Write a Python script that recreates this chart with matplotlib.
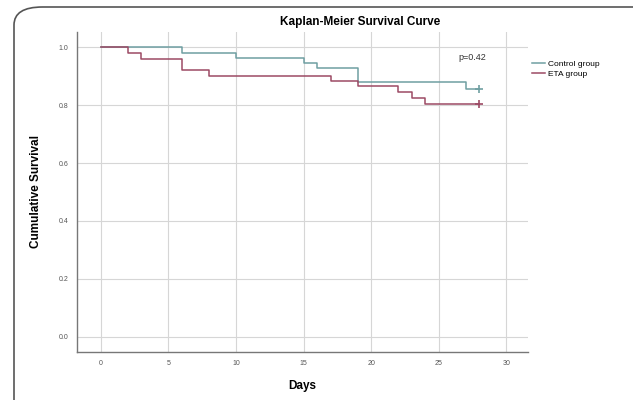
import matplotlib.pyplot as plt
from matplotlib.patches import FancyBboxPatch

# step data (day, survival after the drop)
control_days = [0, 6, 10, 15, 16, 19, 27, 28]
control_surv = [1.0, 0.98, 0.963, 0.946, 0.929, 0.880, 0.857, 0.857]
eta_days = [0, 2, 3, 6, 8, 17, 19, 22, 23, 24, 28]
eta_surv = [1.0, 0.98, 0.959, 0.921, 0.901, 0.883, 0.866, 0.846, 0.823, 0.803, 0.803]

x_ticks = [0, 5, 10, 15, 20, 25, 30]
y_ticks = [0.0, 0.2, 0.4, 0.6, 0.8, 1.0]

plt.rcParams['font.family'] = ['Liberation Sans', 'DejaVu Sans']

fig = plt.figure(figsize=(6.33, 4.0), dpi=100)
ax = fig.add_axes([77 / 633, 1 - 352 / 400, (528 - 77) / 633, (352 - 32) / 400])

c_col = '#6f9fa2'
e_col = '#9c4a64'

ax.step(control_days, control_surv, where='post', color=c_col, lw=1.1, label='Control group')
ax.step(eta_days, eta_surv, where='post', color=e_col, lw=1.1, label='ETA group')
ax.plot(control_days[-1], control_surv[-1], marker='+', color=c_col, ms=6, mew=1.2)
ax.plot(eta_days[-1], eta_surv[-1], marker='+', color=e_col, ms=6, mew=1.2)

ax.set_xlim(-1.77, 31.6)
ax.set_ylim(-0.052, 1.052)
ax.set_xticks(x_ticks)
ax.set_yticks(y_ticks)
ax.set_xticklabels([str(t) for t in x_ticks])
ax.set_yticklabels(['%.1f' % t for t in y_ticks])
ax.tick_params(length=0, labelsize=5, colors='#555555', pad=6)
ax.grid(True, color='#d6d6d6', lw=0.8)
ax.set_axisbelow(True)
for s in ['top', 'right']:
    ax.spines[s].set_visible(False)
for s in ['left', 'bottom']:
    ax.spines[s].set_color('#777777')
    ax.spines[s].set_linewidth(1.0)

ax.text(27.5, 0.963, 'p=0.42', ha='center', va='center', fontsize=6.5, color='#333333')

ax.set_xlabel('Days', fontsize=8.5, fontweight='bold', labelpad=9)
ax.set_ylabel('Cumulative Survival', fontsize=8.5, fontweight='bold', labelpad=12)
fig.text(360 / 633, 1 - 22 / 400, 'Kaplan-Meier Survival Curve', ha='center', va='center',
         fontsize=8.5, fontweight='bold')

fig.legend(loc='upper left', bbox_to_anchor=(528 / 633, 1 - 56 / 400), frameon=False,
           fontsize=6, handlelength=1.5, handletextpad=0.4, labelspacing=0.2, borderpad=0)

# rounded frame around the figure, running off the right and bottom edges
frame = FancyBboxPatch((14 / 633, -0.2), 1.2, 1 - 7 / 400 + 0.2,
                       boxstyle='round,pad=0,rounding_size=0.045', transform=fig.transFigure,
                       fill=False, ec='#555555', lw=1.2, clip_on=False)
fig.patches.append(frame)

fig.savefig('out.png', dpi=100)
